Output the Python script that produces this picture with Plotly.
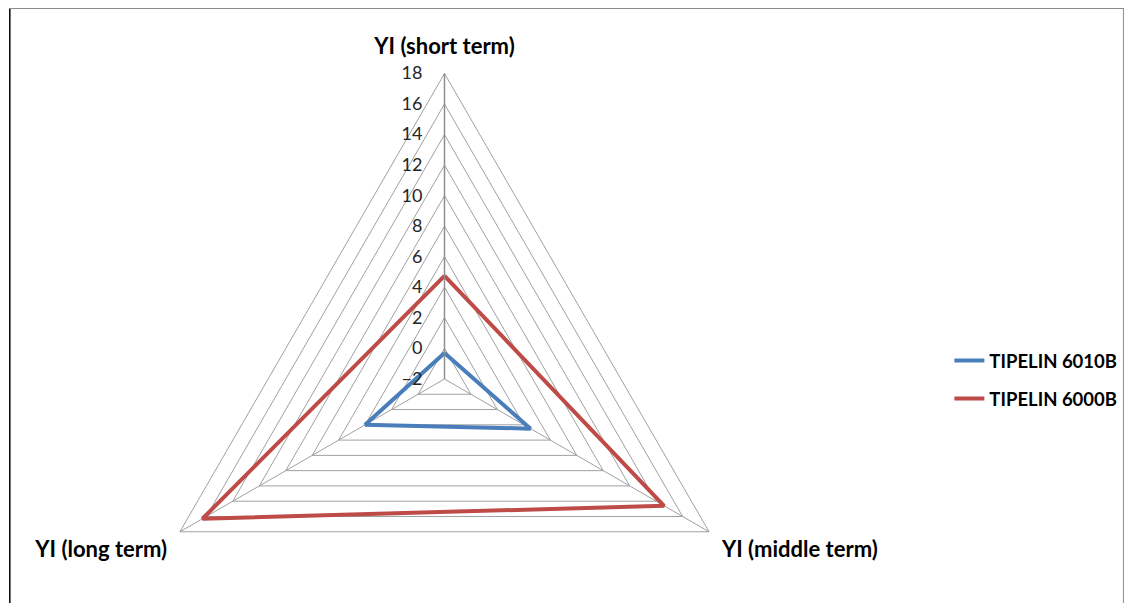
import plotly.graph_objects as go

categories = ["YI (short term)", "YI (middle term)", "YI (long term)"]
series_names = ["TIPELIN 6010B", "TIPELIN 6000B"]
tipelin_6010b = [-0.3, 4.5, 4.0]
tipelin_6000b = [4.75, 14.6, 16.3]
series_colors = ["#4A7EBB", "#BE4B48"]
radial_range = [-2, 18]
radial_step = 2

OFF = 8  # page body margin
W, H = 1134 - OFF, 700
L, T = 139 - OFF, 71 - OFF
S = 616  # polar square size in px
R = W - L - S
B = H - T - S


def px_x(p):
    return (p - OFF - L) / S


def px_y(p):
    return (T + S - (p - OFF)) / S


fig = go.Figure()
for i, (name, vals) in enumerate(zip(series_names, [tipelin_6010b, tipelin_6000b])):
    fig.add_trace(go.Scatterpolar(
        r=vals + vals[:1],
        theta=categories + categories[:1],
        mode="lines",
        name=name,
        line=dict(color=series_colors[i], width=4),
        legend="legend" if i == 0 else "legend2",
    ))

grid = "#A0A0A0"
leg_font = dict(family="Lato", size=18.5, color="#000000", weight="bold")
fig.update_layout(
    width=W, height=H,
    margin=dict(l=L, r=R, t=T, b=B, pad=0),
    paper_bgcolor="white",
    showlegend=True,
    font=dict(family="Lato", color="#000000"),
    polar=dict(
        domain=dict(x=[0, 1], y=[0, 1]),
        gridshape="linear",
        bgcolor="white",
        radialaxis=dict(
            range=radial_range, dtick=radial_step, tick0=0,
            angle=90, side="counterclockwise", tickangle=90,
            ticks="outside", ticklen=15, tickcolor="rgba(0,0,0,0)",
            showline=True, linecolor="#8E8E8E", linewidth=1.5,
            gridcolor=grid, gridwidth=1,
            tickfont=dict(family="Lato", size=18, color="#262626"),
        ),
        angularaxis=dict(
            rotation=90, direction="clockwise",
            showline=True, linecolor=grid, linewidth=1,
            gridcolor=grid, gridwidth=1,
            ticks="outside", ticklen=10, tickcolor="rgba(0,0,0,0)",
            tickfont=dict(family="Lato", size=22, color="#000000", weight="bold"),
        ),
    ),
    legend=dict(x=px_x(956), y=px_y(361), xanchor="left", yanchor="middle",
                font=leg_font, bgcolor="rgba(0,0,0,0)"),
    legend2=dict(x=px_x(956), y=px_y(399), xanchor="left", yanchor="middle",
                 font=leg_font, bgcolor="rgba(0,0,0,0)"),
    shapes=[
        dict(type="line", xref="paper", yref="paper", x0=px_x(OFF + 0.75), x1=px_x(OFF + 0.75),
             y0=px_y(OFF), y1=px_y(603), line=dict(color="#000000", width=1.5)),
        dict(type="line", xref="paper", yref="paper", x0=px_x(OFF), x1=px_x(1132),
             y0=px_y(OFF + 0.5), y1=px_y(OFF + 0.5), line=dict(color="#8C8C8C", width=1)),
        dict(type="line", xref="paper", yref="paper", x0=px_x(1131.5), x1=px_x(1131.5),
             y0=px_y(OFF), y1=px_y(603), line=dict(color="#8C8C8C", width=1)),
    ],
)

fig.write_html("out.html")
